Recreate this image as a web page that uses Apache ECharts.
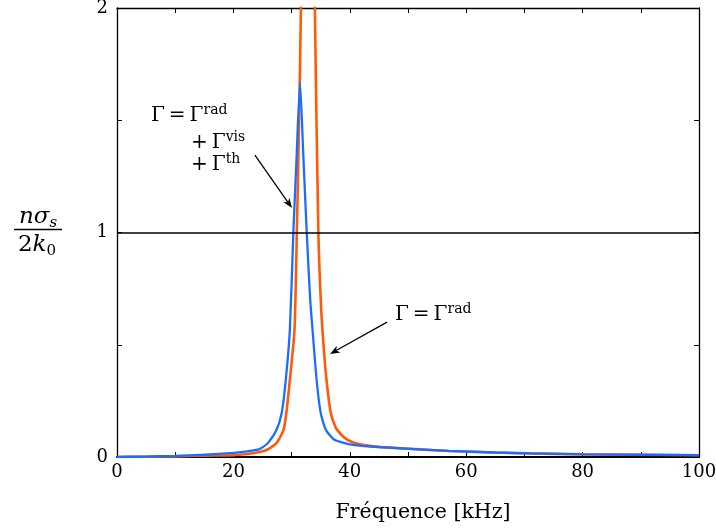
<!DOCTYPE html>
<html>
<head>
<meta charset="utf-8">
<script src="https://cdn.jsdelivr.net/npm/echarts@6/dist/echarts.min.js"></script>
<style>html,body{margin:0;padding:0;background:#fff;}#c{width:716px;height:532px;}</style>
</head>
<body>
<div id="c"></div>
<script>
// Frequencies (kHz) and normalized cross-section n*sigma_s/(2k0)
// Blue: Gamma = Gamma_rad + Gamma_vis + Gamma_th
const xBlue = [0,5,10,15,20,22,24.2,25,26,27.4,28.3,29.0,29.7,30.3,30.8,31.45,32.0,32.6,33.2,33.6,34.3,35.0,35.9,37.2,38.5,40,42,45,48.6,52,57,65,71,80,90,100];
const yBlue = [0,0.002,0.005,0.01,0.018,0.024,0.033,0.043,0.064,0.12,0.196,0.343,0.566,1.0,1.3,1.67,1.35,1.0,0.7,0.566,0.343,0.196,0.12,0.08,0.066,0.056,0.05,0.044,0.039,0.034,0.027,0.02,0.016,0.012,0.01,0.008];
// Orange: Gamma = Gamma_rad
const xOrange = [0,5,10,15,20,22,24,25.7,27.4,28.6,29.1,29.7,30.5,30.9,31.25,31.6,32.0,32.4,32.8,33.2,33.6,34.0,34.6,35.1,35.6,36.0,36.7,37.6,38.6,39.4,40.5,42,45,48.6,52,57,65,71,80,90,100];
const yOrange = [0,0.001,0.003,0.006,0.008,0.012,0.02,0.031,0.062,0.12,0.196,0.343,0.566,1.0,1.45,2.0,3.2,6,12,6,3.2,2.0,1.0,0.65,0.46,0.343,0.2,0.13,0.098,0.08,0.066,0.055,0.045,0.039,0.034,0.027,0.02,0.016,0.012,0.01,0.008];
const xTicks = [0,20,40,60,80,100];
const yTicks = [0,1,2];
const refLevel = 1;

const SERIF = '"DejaVu Serif", "Liberation Serif", serif';
const chart = echarts.init(document.getElementById('c'), null, {renderer:'canvas'});

const tickStyle = {show:true, inside:true, length:5, lineStyle:{color:'#000', width:1}};
const option = {
  animation:false,
  backgroundColor:'#fff',
  grid:{left:117, right:17, top:8, bottom:75, containLabel:false, outerBoundsMode:'none'},
  xAxis:[{
    type:'value', min:0, max:100, interval:10, position:'bottom',
    axisLine:{show:true, onZero:false, lineStyle:{color:'#000', width:2}},
    axisTick:tickStyle,
    splitLine:{show:false},
    axisLabel:{fontFamily:SERIF, fontSize:18, color:'#000', margin:6,
      formatter:v => xTicks.indexOf(v) >= 0 ? String(v) : ''}
  },{
    type:'value', min:0, max:100, interval:10, position:'top',
    axisLine:{show:true, onZero:false, lineStyle:{color:'#000', width:1.3}},
    axisTick:tickStyle, axisLabel:{show:false}, splitLine:{show:false}
  }],
  yAxis:[{
    type:'value', min:0, max:2, interval:0.5, position:'left',
    axisLine:{show:true, onZero:false, lineStyle:{color:'#000', width:1.3}},
    axisTick:tickStyle, splitLine:{show:false},
    axisLabel:{fontFamily:SERIF, fontSize:18, color:'#000', margin:9,
      formatter:v => yTicks.indexOf(v) >= 0 ? String(v) : ''}
  },{
    type:'value', min:0, max:2, interval:0.5, position:'right',
    axisLine:{show:true, onZero:false, lineStyle:{color:'#000', width:1.3}},
    axisTick:tickStyle, axisLabel:{show:false}, splitLine:{show:false}
  }],
  series:[{
    type:'line', name:'rad', clip:true, showSymbol:false, symbol:'none',
    smooth:0.2,
    data:xOrange.map((x,i)=>[x,yOrange[i]]),
    lineStyle:{color:'#ff5a0a', width:2.6},
    markLine:{silent:true, symbol:'none', label:{show:false},
      lineStyle:{color:'#000', width:1.6, type:'solid'},
      data:[{yAxis:refLevel}]},
    z:3
  },{
    type:'line', name:'total', clip:true, showSymbol:false, symbol:'none',
    smooth:0.2,
    data:xBlue.map((x,i)=>[x,yBlue[i]]),
    lineStyle:{color:'#1a6eff', width:2.3},
    z:4
  }]
};
chart.setOption(option);

function px(f,v){ return chart.convertToPixel({xAxisIndex:0, yAxisIndex:0},[f,v]); }
function arrow(from, to){
  const a = px(from[0],from[1]), b = px(to[0],to[1]);
  const dx=b[0]-a[0], dy=b[1]-a[1], L=Math.hypot(dx,dy);
  const ux=dx/L, uy=dy/L, nx=-uy, ny=ux;
  const hl=10, hw=3.8, notch=3;
  const base=[b[0]-ux*(hl-notch), b[1]-uy*(hl-notch)];
  return [
    {type:'line', shape:{x1:a[0],y1:a[1],x2:base[0],y2:base[1]}, style:{stroke:'#000', lineWidth:1.3}, z:10},
    {type:'polygon', shape:{points:[
      [b[0],b[1]],
      [b[0]-ux*hl+nx*hw, b[1]-uy*hl+ny*hw],
      base,
      [b[0]-ux*hl-nx*hw, b[1]-uy*hl-ny*hw]
    ]}, style:{fill:'#000'}, z:10}
  ];
}
const RICH = {
  m:{fontFamily:SERIF, fontSize:20, lineHeight:26, verticalAlign:'middle', color:'#000'},
  s:{fontFamily:SERIF, fontSize:14, lineHeight:14, verticalAlign:'top', color:'#000'},
  i:{fontFamily:SERIF, fontStyle:'italic', fontSize:23, lineHeight:28, verticalAlign:'middle', color:'#000'},
  r:{fontFamily:SERIF, fontSize:23, lineHeight:28, verticalAlign:'middle', color:'#000'},
  b:{fontFamily:SERIF, fontStyle:'italic', fontSize:15, lineHeight:15, verticalAlign:'bottom', color:'#000'},
  bn:{fontFamily:SERIF, fontSize:15, lineHeight:15, verticalAlign:'bottom', color:'#000'}
};
function rt(t, x, y, align){
  return {type:'text', z:10, style:{text:t, x:x, y:y, rich:RICH, fill:'#000',
    align:align||'left', verticalAlign:'middle'}};
}
const g = [];
// x-axis title
g.push({type:'text', z:10, style:{text:'Fréquence [kHz]', x:423, y:513, fill:'#000',
  font:'20.5px '+SERIF, align:'center', verticalAlign:'middle'}});
// y-axis label: n sigma_s / 2 k_0
g.push(rt('{i|nσ}{b|s}', 38, 217, 'center'));
g.push({type:'line', z:10, shape:{x1:14,y1:229.5,x2:62,y2:229.5}, style:{stroke:'#000', lineWidth:1.3}});
g.push(rt('{r|2}{i|k}{bn|0}', 37, 245, 'center'));
// annotation 1
g.push(rt('{m|Γ\u2009=\u2009Γ}{s|rad}', 151, 116));
g.push(rt('{m|+\u2009Γ}{s|vis}', 191, 143));
g.push(rt('{m|+\u2009Γ}{s|th}', 191, 165));
// annotation 2
g.push(rt('{m|Γ\u2009=\u2009Γ}{s|rad}', 395, 315));
arrow([23.7,1.345],[30.07,1.109]).forEach(e=>g.push(e));
arrow([46.4,0.601],[36.6,0.459]).forEach(e=>g.push(e));
chart.setOption({graphic:{elements:g}});
</script>
</body>
</html>
